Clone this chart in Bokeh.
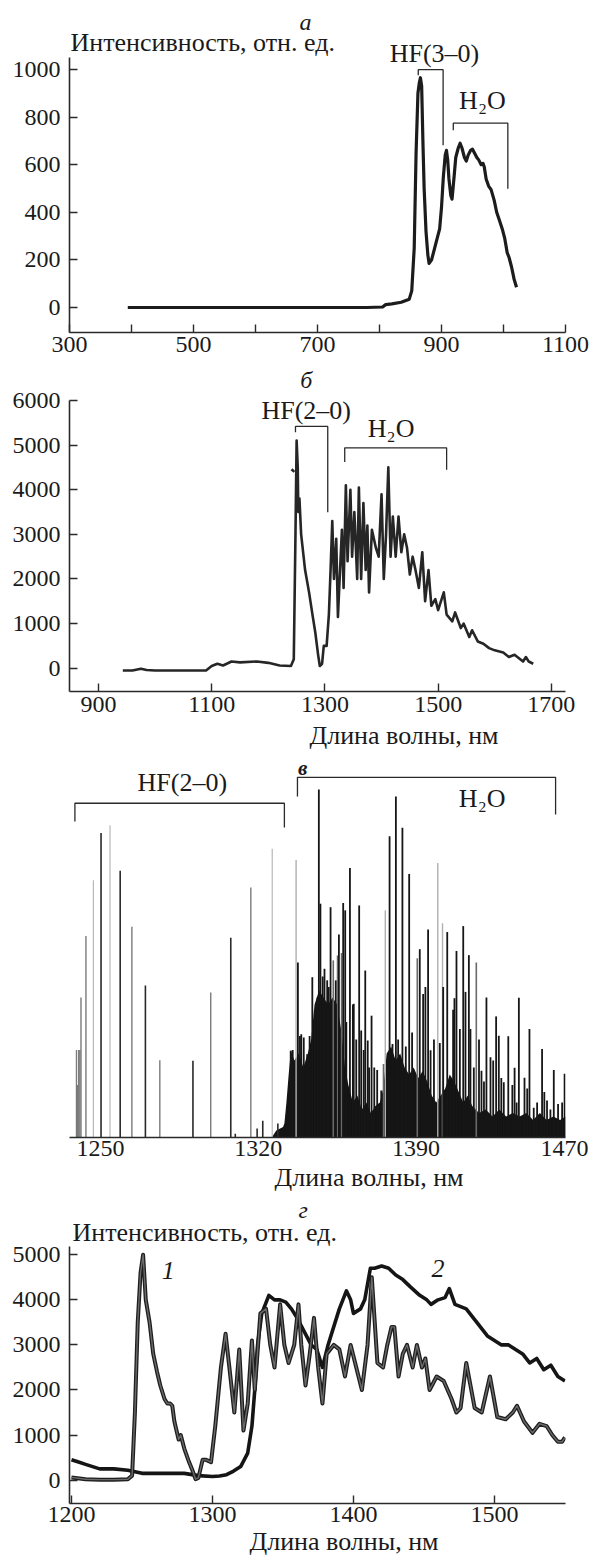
from bokeh.plotting import figure
from bokeh.models import Label, FixedTicker, Range1d, Title
from bokeh.layouts import column
from bokeh.embed import file_html
from bokeh.resources import INLINE

FONT = "Liberation Serif"
FS_TICK = "24px"
FS_TEXT = "26px"

# ---------------- panel a ----------------
a_curve = [(394, 0), (450, 0), (500, 0), (600, 0), (700, 0), (780, 0), (805, 2), (810, 12), (820, 15),
           (835, 22), (848, 35), (852, 70), (856, 250), (859, 650), (862, 900), (864, 940), (866, 965),
           (868, 930), (870, 700), (872, 500), (875, 320), (878, 220), (880, 185), (884, 200), (888, 240),
           (893, 290), (897, 330), (900, 420), (903, 550), (906, 640), (908, 660), (910, 620), (912, 540),
           (915, 470), (917, 455), (920, 540), (923, 630), (927, 670), (930, 690), (933, 670), (937, 630),
           (940, 615), (943, 640), (947, 660), (950, 665), (953, 650), (957, 630), (960, 620), (964, 600),
           (967, 605), (969, 590), (972, 540), (976, 510), (980, 495), (985, 450), (989, 400), (993, 370),
           (998, 330), (1002, 290), (1006, 230), (1009, 210), (1013, 170), (1017, 120), (1021, 85)]
a_x = [p[0] for p in a_curve]
a_y = [p[1] for p in a_curve]
a_xticks = [300, 500, 700, 900, 1100]
a_xminor = [400, 600, 800, 1000]
a_yticks = [0, 200, 400, 600, 800, 1000]
# brackets: x0, x1, y, left leg end, right leg end
a_br_hf = (862.5, 902.6, 999, 975, 681)
a_br_h2o = (919, 1007, 774, 744, 499)

# ---------------- panel b ----------------
b_curve = [(943, -50), (960, -50), (975, -10), (985, -40), (1000, -50), (1050, -50), (1090, -50),
           (1100, 50), (1110, 100), (1120, 60), (1135, 150), (1150, 130), (1180, 150), (1200, 120),
           (1220, 60), (1240, 50), (1245, 200), (1248, 3000), (1250, 5100), (1252, 4500), (1253, 3500),
           (1255, 3800), (1258, 3000), (1265, 2200), (1272, 1700), (1278, 1200), (1283, 800), (1288, 300),
           (1291, 50), (1295, 100), (1298, 500), (1303, 500), (1307, 1200), (1310, 2200), (1313, 3300),
           (1316, 2000), (1320, 2900), (1323, 1150), (1326, 2000), (1330, 3100), (1333, 1800), (1337, 4100),
           (1340, 2400), (1345, 4000), (1348, 2500), (1352, 3500), (1357, 2000), (1360, 4050), (1364, 2000),
           (1368, 3700), (1372, 2200), (1375, 3200), (1378, 1700), (1383, 3100), (1390, 2700), (1395, 2500),
           (1400, 3900), (1404, 2000), (1408, 3000), (1412, 4500), (1416, 2500), (1420, 3400), (1425, 2500),
           (1430, 3400), (1435, 2600), (1440, 3000), (1445, 2700), (1450, 2100), (1455, 2500), (1460, 2200),
           (1466, 1800), (1472, 2600), (1477, 1500), (1483, 2200), (1488, 1400), (1495, 1550), (1500, 1300),
           (1510, 1700), (1515, 1200), (1525, 1050), (1530, 1250), (1540, 900), (1545, 1000), (1555, 700),
           (1560, 850), (1570, 600), (1580, 550), (1590, 450), (1600, 400), (1615, 350), (1625, 250),
           (1635, 300), (1645, 200), (1650, 150), (1655, 250), (1660, 150), (1668, 100)]
b_x = [p[0] for p in b_curve]
b_y = [p[1] for p in b_curve]
b_stub_x = [1241, 1246]
b_stub_y = [4460, 4400]
b_xticks = [900, 1100, 1300, 1500, 1700]
b_yticks = [0, 1000, 2000, 3000, 4000, 5000, 6000]
b_br_hf = (1248, 1305, 5418, 5290, 3497)
b_br_h2o = (1335, 1515, 4940, 4620, 4447)

# ---------------- panel c (line spectrum, arbitrary units) ----------------
c_hf_dark = [(1250.2, 87.0), (1258.7, 76.2), (1269.9, 43.4), (1291.0, 21.9), (1307.8, 57.1),
             (1309.8, 1.1), (1319.5, 2.6), (1322.0, 4.8), (1328.7, 4.0)]
c_hf_gray = [(1239.3, 25.0), (1239.8, 15.0), (1240.3, 25.0), (1240.8, 25.0), (1241.3, 40.0),
             (1243.5, 57.6), (1263.9, 60.2), (1276.3, 22.1), (1298.9, 41.4), (1316.7, 71.4)]
c_hf_light = [(1246.8, 73.5), (1254.2, 89.2), (1326.2, 82.5)]
c_h2o_dark = [(1337.6, 50.0), (1339.1, 29.5), (1340.2, 28.6), (1341.7, 23.8), (1344.0, 45.8),
              (1345.1, 36.3), (1346.9, 99.4), (1347.6, 66.8), (1349.4, 48.2), (1350.6, 44.9),
              (1352.1, 65.8), (1354.4, 44.9), (1355.8, 58.0), (1357.7, 67.0), (1358.6, 64.9),
              (1360.7, 77.0), (1362.4, 38.2), (1364.8, 66.3), (1365.7, 30.6), (1367.5, 47.7),
              (1368.6, 27.7), (1370.3, 34.8), (1372.8, 19.3), (1374.6, 13.4), (1377.3, 22.1),
              (1378.3, 86.1), (1379.6, 26.7), (1381.1, 97.4), (1384.0, 88.5), (1387.0, 75.3),
              (1391.7, 53.8), (1395.4, 59.4), (1396.5, 24.9), (1402.1, 43.0), (1403.9, 58.7),
              (1406.5, 36.5), (1407.1, 39.8), (1408.0, 53.3), (1411.0, 60.4), (1412.0, 41.6),
              (1413.5, 52.1), (1414.2, 31.0), (1419.1, 19.1), (1421.3, 40.0), (1423.1, 22.9),
              (1425.6, 34.6), (1426.8, 29.1), (1429.0, 15.8), (1431.0, 28.9), (1433.8, 19.9),
              (1435.7, 39.9), (1438.2, 17.1), (1440.4, 31.0), (1442.3, 8.5), (1446.0, 25.3),
              (1448.2, 10.6), (1451.2, 19.3), (1453.1, 9.6), (1456.0, 18.2),
              (1334.4, 24.8), (1335.3, 25.0), (1338.5, 29.0), (1342.8, 29.0), (1346.3, 40.0),
              (1348.6, 46.0), (1351.3, 43.0), (1359.1, 33.0), (1362.0, 38.0), (1363.5, 28.0),
              (1366.8, 25.0), (1369.2, 20.0), (1371.5, 20.0), (1377.6, 23.0), (1382.1, 28.0),
              (1385.5, 26.0), (1388.3, 30.0), (1393.2, 41.0), (1394.2, 43.0), (1398.0, 28.0),
              (1400.6, 27.0), (1405.3, 15.0), (1409.5, 31.0), (1415.7, 20.0), (1418.0, 28.0),
              (1420.2, 16.0), (1424.3, 22.0), (1427.9, 17.0), (1432.8, 15.0), (1434.7, 10.0),
              (1439.4, 14.0), (1443.8, 10.0), (1447.0, 13.0), (1449.7, 8.0), (1454.9, 10.0)]
c_h2o_gray = [(1353.3, 50.6), (1355.2, 52.0), (1357.0, 52.7), (1375.6, 21.0), (1390.6, 51.2),
              (1416.8, 50.0)]
c_h2o_light = [(1336.8, 79.3), (1376.4, 64.9), (1399.7, 78.4), (1401.8, 61.2)]
c_band = [(1326.0, 0), (1328.0, 2), (1331.0, 3), (1331.6, 4), (1332.5, 10), (1333.5, 18), (1334.5, 25),
          (1336, 22), (1338, 24), (1340, 20), (1342, 24), (1343.5, 28), (1345, 38), (1347, 42),
          (1349, 40), (1351, 38), (1353, 40), (1355, 38), (1357, 30), (1358.5, 20), (1360, 15),
          (1362, 10), (1364, 12), (1366, 8), (1368, 10), (1370, 7), (1372, 9), (1374, 10),
          (1375.5, 14), (1377, 24), (1379, 26), (1381, 22), (1383, 24), (1385, 20), (1387, 18),
          (1389, 20), (1391, 17), (1393, 19), (1395, 16), (1397, 12), (1399, 10), (1401, 12),
          (1403, 14), (1405, 18), (1407, 16), (1409, 13), (1411, 10), (1413, 12), (1415, 9),
          (1418, 7), (1421, 8), (1424, 6), (1427, 8), (1430, 6), (1433, 7), (1436, 6), (1439, 7),
          (1442, 5), (1445, 7), (1448, 5), (1451, 6), (1454, 5), (1456.4, 6)]
c_xticks = [1250, 1320, 1390, 1456]
c_xtick_labels = ["1250", "1320", "1390", "1470"]
c_br_hf = (1238.6, 1331.6, 95.5, 90.3, 88.6)
c_br_h2o = (1337.4, 1452.0, 102.9, 97.4, 92.3)

# ---------------- panel d ----------------
d1_curve = [(1200, 60), (1210, 20), (1220, 10), (1230, 10), (1240, 20), (1243, 100), (1245, 1500),
            (1247, 3500), (1249, 4600), (1250.8, 5000), (1252.7, 4000), (1255.4, 3500), (1258, 2800),
            (1260.7, 2400), (1263, 2100), (1266, 1800), (1268, 1700), (1270, 1700), (1271.5, 1650),
            (1273, 1300), (1276, 900), (1277.5, 1000), (1280, 700), (1283.4, 400), (1286, 200),
            (1288, 20), (1290, 50), (1293, 450), (1295.5, 450), (1299, 400), (1302, 1200), (1306, 2500),
            (1309.3, 3250), (1312, 2500), (1315.5, 1500), (1319, 2900), (1322, 1100), (1325, 1700),
            (1328, 3100), (1330, 2000), (1334, 3700), (1338, 3800), (1341, 3000), (1344, 2500),
            (1348, 3900), (1351, 3000), (1354, 2600), (1358, 3000), (1361, 3900), (1363, 3000),
            (1366, 2100), (1369, 2800), (1372, 3600), (1375, 2500), (1378, 1700), (1381, 2800),
            (1386, 3000), (1390, 2900), (1394, 2300), (1398, 3000), (1402, 2500), (1406, 2000),
            (1410, 3000), (1413, 4500), (1417, 2600), (1421, 2500), (1424, 3000), (1427, 3400),
            (1429, 3400), (1432, 2300), (1435, 2800), (1438, 3000), (1442, 2500), (1445, 3000),
            (1448.6, 2500), (1451, 2700), (1454, 2000), (1459, 2300), (1464, 2200), (1469.6, 1800),
            (1473, 1500), (1476, 1600), (1480, 2600), (1486, 1600), (1491, 1500), (1496.8, 2300),
            (1502, 1400), (1508, 1350), (1513, 1500), (1516, 1650), (1521, 1300), (1527, 1050),
            (1532, 1250), (1537, 1200), (1541, 1000), (1545, 850), (1548, 850), (1550, 950)]
d2_curve = [(1200, 450), (1205, 400), (1210, 350), (1220, 250), (1230, 250), (1240, 220), (1250, 150),
            (1260, 150), (1270, 150), (1280, 150), (1290, 100), (1300, 80), (1305, 90), (1310, 120),
            (1315, 200), (1320, 300), (1325, 600), (1328, 1200), (1330, 2000), (1332, 3000), (1335, 3700),
            (1340, 4100), (1344, 4000), (1348, 4000), (1352, 3950), (1356, 3800), (1360, 3600),
            (1365, 3300), (1370, 3000), (1374, 2900), (1378, 2500), (1382, 3000), (1385, 3300),
            (1390, 3800), (1395, 4200), (1398, 4000), (1400, 3700), (1405, 3800), (1408, 4000),
            (1412, 4700), (1415, 4700), (1420, 4750), (1425, 4700), (1430, 4550), (1435, 4450),
            (1440, 4300), (1447, 4100), (1452, 4000), (1455, 3900), (1460, 4000), (1465, 4050),
            (1468, 4250), (1472, 3900), (1480, 3800), (1485, 3600), (1490, 3400), (1495, 3200),
            (1500, 3100), (1505, 3000), (1510, 3000), (1515, 2900), (1520, 2800), (1525, 2600),
            (1530, 2700), (1535, 2450), (1540, 2550), (1545, 2300), (1550, 2200)]
d_xticks = [1200, 1300, 1400, 1500]
d_yticks = [0, 1000, 2000, 3000, 4000, 5000]

Y_LABEL = "Интенсивность, отн. ед."
X_LABEL = "Длина волны, нм"
INK = "#1c1c1c"


def make_fig(xr, yr, frame_h, bottom, y_axis=True, ybounds=None):
    p = figure(x_range=Range1d(*xr), y_range=Range1d(*yr), frame_width=496, frame_height=frame_h,
               min_border_left=69, min_border_right=27, min_border_top=0, min_border_bottom=bottom,
               output_backend="svg", toolbar_location=None, title=None,
               y_axis_location=("left" if y_axis else None))
    p.grid.visible = False
    p.outline_line_color = None
    p.background_fill_color = "white"
    p.border_fill_color = "white"
    for ax in p.axis:
        ax.axis_line_color = "#2a2a2a"
        ax.axis_line_width = 1.6
        ax.major_tick_line_color = "#2a2a2a"
        ax.major_tick_line_width = 1.4
        ax.major_tick_in = 8
        ax.major_tick_out = 0
        ax.minor_tick_in = 0
        ax.minor_tick_out = 0
        ax.major_label_text_font = FONT
        ax.major_label_text_font_size = FS_TICK
        ax.major_label_text_color = "#1a1a1a"
        ax.major_label_standoff = 4
    if y_axis:
        p.yaxis.major_label_standoff = 9
        p.yaxis.bounds = ybounds
    return p


def text(p, x, y, s, align="center", style="normal", size=FS_TEXT):
    p.add_layout(Label(x=x, y=y, text=s, text_font=FONT, text_font_size=size,
                       text_font_style=style, text_align=align, text_baseline="middle",
                       text_color="#1a1a1a"))


def xlabel(p, offset, standoff):
    p.add_layout(Title(text=X_LABEL, align="left", offset=offset, standoff=standoff,
                       text_font=FONT, text_font_size=FS_TEXT, text_font_style="normal",
                       text_color="#1a1a1a"), "below")


def bracket(p, br, width=1.3):
    x0, x1, y, yl, yr = br
    p.line([x0, x0, x1, x1], [yl, y, y, yr], line_color="#2a2a2a", line_width=width)


# ---- a ----
pa = make_fig((300, 1100), (-105, 1289.4), 332, 32, ybounds=(-105, 1050))
pa.xaxis.ticker = FixedTicker(ticks=a_xticks, minor_ticks=a_xminor)
pa.xaxis.minor_tick_in = 8
pa.xaxis.minor_tick_line_color = "#2a2a2a"
pa.xaxis.minor_tick_line_width = 1.4
pa.yaxis.ticker = FixedTicker(ticks=a_yticks)
pa.line(a_x, a_y, line_color=INK, line_width=3.2, line_join="round")
bracket(pa, a_br_hf)
bracket(pa, a_br_h2o)
text(pa, 680.6, 1201, "а", style="italic", size="24px")
text(pa, 301.6, 1113, Y_LABEL, align="left")
text(pa, 888.7, 1065, "HF(3–0)")
text(pa, 966, 870, "H₂O")

# ---- b ----
pb = make_fig((848.8, 1725), (-522, 6806.7), 327, 62, ybounds=(-522, 6000))
pb.xaxis.ticker = FixedTicker(ticks=b_xticks)
pb.xaxis.major_label_standoff = 5
pb.yaxis.ticker = FixedTicker(ticks=b_yticks)
pb.line(b_x, b_y, line_color="#262626", line_width=2.6, line_join="round")
pb.line(b_stub_x, b_stub_y, line_color="#262626", line_width=2.6)
bracket(pb, b_br_hf)
bracket(pb, b_br_h2o)
text(pb, 1267, 6470, "б", style="italic", size="24px")
text(pb, 1267, 5775, "HF(2–0)")
text(pb, 1417, 5365, "H₂O")
xlabel(pb, 240, 8)

# ---- c ----
pc = make_fig((1236.2, 1456.4), (0, 109.71), 384, 57, y_axis=False)
pc.xaxis.ticker = FixedTicker(ticks=c_xticks)
pc.xaxis.major_label_overrides = dict(zip(c_xticks, c_xtick_labels))
pc.xaxis.major_tick_in = 0
pc.xaxis.major_label_standoff = 3
pc.varea(x=[p[0] for p in c_band], y1=0, y2=[p[1] for p in c_band], fill_color="#141414")
for grp, col, w in [(c_hf_light, "#b8b8b8", 1.2), (c_h2o_light, "#b0b0b0", 1.4),
                    (c_hf_gray, "#7a7a7a", 1.4), (c_h2o_gray, "#6a6a6a", 1.6),
                    (c_hf_dark, "#2a2a2a", 1.6), (c_h2o_dark, "#161616", 1.8)]:
    xs = [q[0] for q in grp]
    hs = [q[1] for q in grp]
    pc.segment(x0=xs, y0=[0] * len(xs), x1=xs, y1=hs, line_color=col, line_width=w)
bracket(pc, c_br_hf)
bracket(pc, c_br_h2o)
text(pc, 1339.7, 105.5, "в", style="bold italic", size="21px")
text(pc, 1286.3, 101.5, "HF(2–0)")
text(pc, 1419.4, 96.9, "H₂O")
xlabel(pc, 205, 4)

# ---- d ----
pd = make_fig((1198.6, 1550.4), (-519, 6338), 309, 59, ybounds=(-519, 5177))
pd.xaxis.ticker = FixedTicker(ticks=d_xticks)
pd.xaxis.major_label_standoff = 3
pd.yaxis.ticker = FixedTicker(ticks=d_yticks)
pd.line([q[0] for q in d2_curve], [q[1] for q in d2_curve], line_color="#151515", line_width=3.6,
        line_join="round")
d1x = [q[0] for q in d1_curve]
d1y = [q[1] for q in d1_curve]
pd.line(d1x, d1y, line_color="#1e1e1e", line_width=4.0, line_join="round")
pd.line(d1x, d1y, line_color="#6a6a6a", line_width=1.4, line_join="round")
text(pd, 1364.4, 6000, "г", style="italic", size="24px")
text(pd, 1200.7, 5495, Y_LABEL, align="left")
text(pd, 1268.7, 4660, "1", style="italic")
text(pd, 1459.9, 4696, "2", style="italic")
xlabel(pd, 180, 1)

layout = column(pa, pb, pc, pd, spacing=0)
open("out.html", "w").write(file_html(layout, INLINE))
